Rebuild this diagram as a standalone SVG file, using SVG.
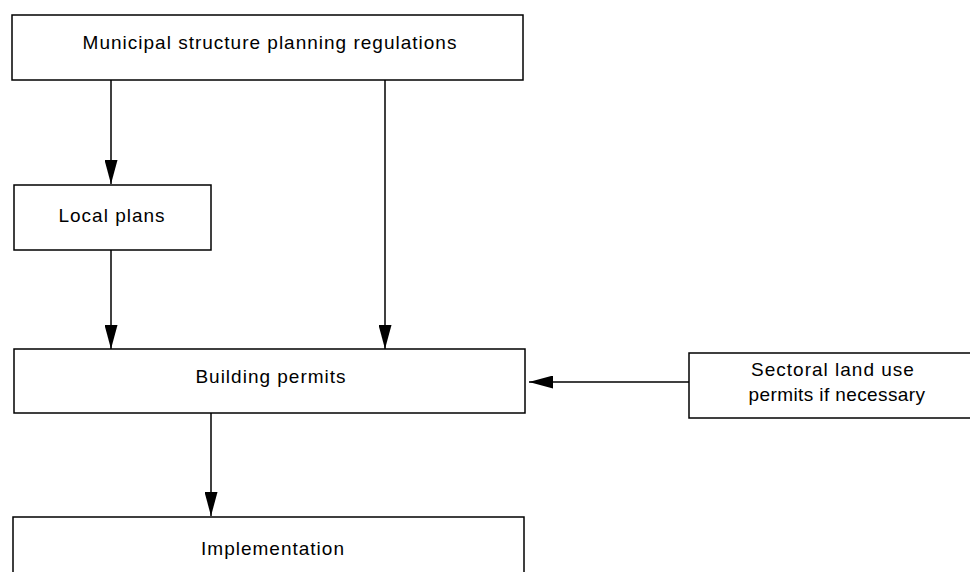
<svg xmlns="http://www.w3.org/2000/svg" width="970" height="572" viewBox="0 0 970 572">
<defs>
<marker id="ah" viewBox="0 0 24 13" refX="24" refY="6.5" markerWidth="24" markerHeight="13" markerUnits="userSpaceOnUse" orient="auto">
<path d="M0,0 L24,6.5 L0,13 Z" fill="#000"/>
</marker>
</defs>
<style>
.box{fill:#fff;stroke:#000;stroke-width:1.5}
.t{font-family:"Liberation Sans",Arial,sans-serif;font-size:19px;letter-spacing:1px;fill:#000;text-anchor:middle}
.c{stroke:#000;stroke-width:1.5;fill:none;marker-end:url(#ah)}
</style>
<rect width="970" height="572" fill="#fff"/>
<g id="connectors">
<line class="c" x1="111" y1="80" x2="111" y2="184"/>
<line class="c" x1="385" y1="80" x2="385" y2="349"/>
<line class="c" x1="111" y1="250" x2="111" y2="349"/>
<line class="c" x1="211" y1="413" x2="211" y2="516"/>
<line class="c" x1="689" y1="382" x2="529" y2="382"/>
</g>
<g id="municipal">
<rect class="box" x="12" y="15" width="511" height="65"/>
<text class="t" x="270" y="49">Municipal structure planning regulations</text>
</g>
<g id="local">
<rect class="box" x="14" y="185" width="197" height="65"/>
<text class="t" x="112" y="222">Local plans</text>
</g>
<g id="building">
<rect class="box" x="14" y="349" width="511" height="64"/>
<text class="t" x="271" y="383">Building permits</text>
</g>
<g id="sectoral">
<rect class="box" x="689" y="353" width="290" height="65"/>
<text class="t" x="833" y="376">Sectoral land use</text>
<text class="t" x="837" y="401" style="letter-spacing:0.4px">permits if necessary</text>
</g>
<g id="implementation">
<rect class="box" x="13" y="517" width="511" height="70"/>
<text class="t" x="273" y="555">Implementation</text>
</g>
</svg>
